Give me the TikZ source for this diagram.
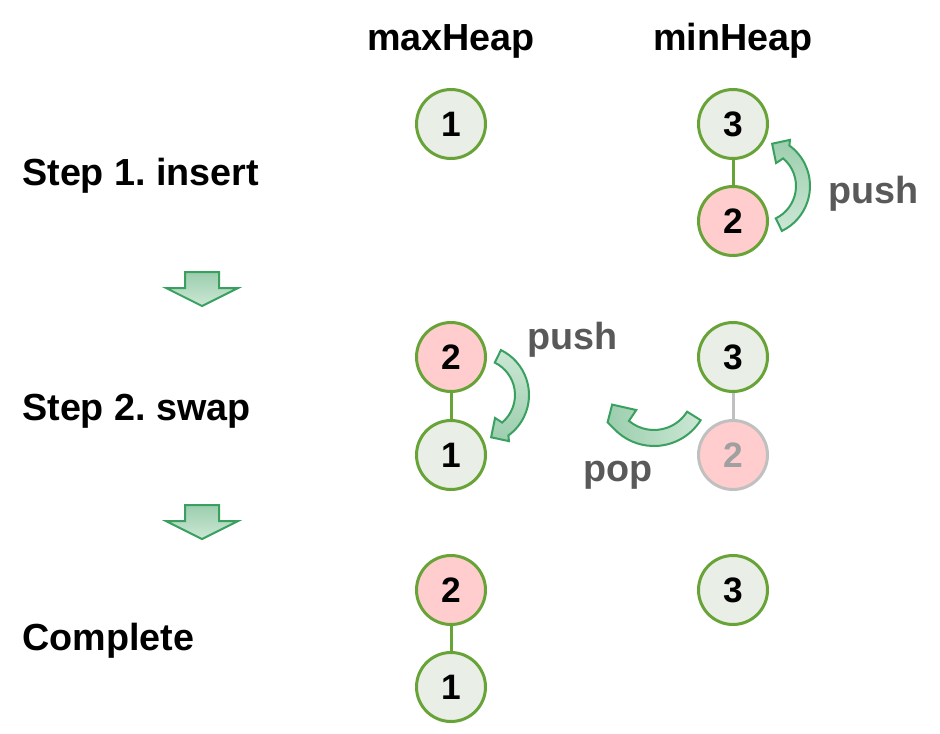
\documentclass[tikz,border=0pt]{standalone}
\usepackage{fontspec}
\setmainfont{Liberation Sans}
\frenchspacing
\definecolor{nodeline}{RGB}{104,163,55}
\definecolor{nodefill}{RGB}{233,238,230}
\definecolor{redfill}{RGB}{255,205,205}
\definecolor{fadeline}{RGB}{192,192,192}
\definecolor{fadetext}{RGB}{160,160,160}
\definecolor{arrline}{RGB}{58,160,96}
\definecolor{arrdark}{RGB}{156,206,174}
\definecolor{arrlight}{RGB}{203,231,212}
\definecolor{labelgray}{RGB}{89,89,89}

\begin{document}
\begin{tikzpicture}[x=0.75pt,y=-0.75pt,
  heap/.style={circle,draw=nodeline,line width=2.25pt,fill=nodefill,minimum size=51.75pt,inner sep=0pt,font=\fontsize{26.5}{26.5}\selectfont\bfseries},
  hot/.style={heap,fill=redfill},
  gone/.style={hot,draw=fadeline,text=fadetext},
  link/.style={draw=nodeline,line width=2.25pt},
  title/.style={font=\fontsize{28.3}{30}\selectfont\bfseries,anchor=base,inner sep=0pt},
  steplabel/.style={title,anchor=base west},
  oplabel/.style={title,anchor=base west,text=labelgray},
  blockarrow/.style={draw=arrline,line width=1.5pt,line join=miter}]
\useasboundingbox (0,0) rectangle (940,733);

% column heads and steps
\node[title] (maxhead) at (451,50) {maxHeap};
\node[title] (minhead) at (733,50) {minHeap};
\node[steplabel] (step1) at (22,185) {Step 1. insert};
\node[steplabel] (step2) at (22,420) {Step 2. swap};
\node[steplabel] (done) at (22,650) {Complete};

% step 1
\node[heap] (maxA) at (451,124) {1};
\node[heap] (minA) at (733,124) {3};
\node[hot] (minB) at (733,221) {2};
\draw[link] (minA) -- (minB);

% step 2
\node[hot] (maxC) at (451,357) {2};
\node[heap] (maxD) at (451,455) {1};
\node[heap] (minC) at (733,357) {3};
\node[gone] (minD) at (733,455) {2};
\draw[link] (maxC) -- (maxD);
\draw[link,draw=fadeline] (minC) -- (minD);

% complete
\node[hot] (maxE) at (451,590) {2};
\node[heap] (maxF) at (451,687) {1};
\node[heap] (minE) at (733,590) {3};
\draw[link] (maxE) -- (maxF);

% operation labels
\node[oplabel] (push1) at (828,203) {push};
\node[oplabel] (push2) at (527,349) {push};
\node[oplabel] (pop) at (583,481) {pop};

% down arrows between steps
\draw[blockarrow,top color=arrdark,bottom color=arrlight] (185,272) -- (219,272) -- (219,288) -- (238,288) -- (202,306) -- (166,288) -- (185,288) -- cycle;
\draw[blockarrow,top color=arrdark,bottom color=arrlight] (185,505) -- (219,505) -- (219,521) -- (238,521) -- (202,539) -- (166,521) -- (185,521) -- cycle;

% curved arrows
\begin{scope}[shift={(760,186)}]
\draw[blockarrow,top color=arrdark,bottom color=arrlight] (64:50) arc[start angle=64,end angle=-54,radius=50] -- (-57:55) -- (-74:44) -- (-55:28) -- (-50:36) arc[start angle=-50,end angle=64,radius=36] -- cycle;
\end{scope}
\begin{scope}[shift={(479,395)}]
\draw[blockarrow,top color=arrlight,bottom color=arrdark] (-64:50) arc[start angle=-64,end angle=54,radius=50] -- (57:55) -- (74:44) -- (55:28) -- (50:36) arc[start angle=50,end angle=-64,radius=36] -- cycle;
\end{scope}
\begin{scope}[shift={(654,391)}]
\draw[blockarrow,left color=arrdark,right color=arrlight] (32:55) arc[start angle=32,end angle=136,radius=55] -- (146:56) -- (162:44) -- (133:26) -- (130:39) arc[start angle=130,end angle=32,radius=39] -- cycle;
\end{scope}
\end{tikzpicture}
\end{document}
